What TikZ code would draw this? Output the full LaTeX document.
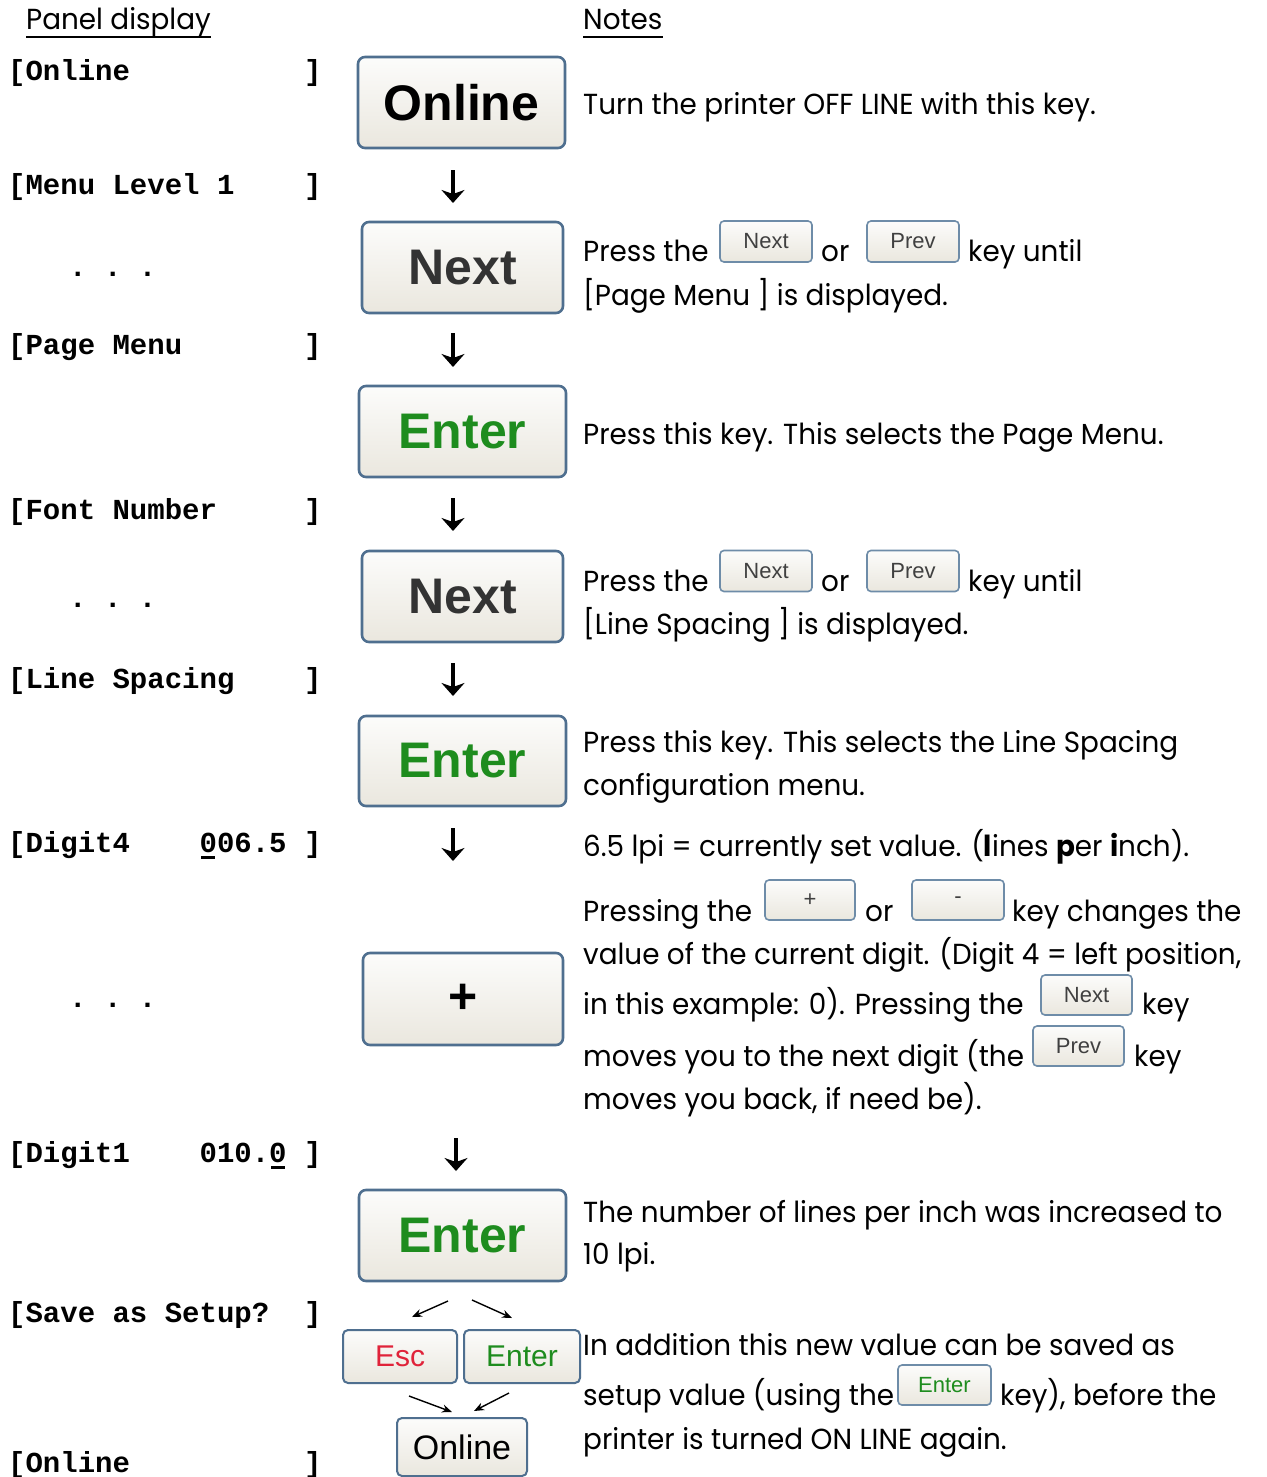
\documentclass[tikz,border=0pt]{standalone}
\usepackage{fontspec}
\setmainfont{Poppins}[FakeStretch=0.96]
\newfontfamily\panelfont{Liberation Mono}
\newfontfamily\keyfont{Liberation Sans}
\usetikzlibrary{arrows.meta}
\definecolor{keyborder}{HTML}{4F6F8F}
\definecolor{smallborder}{HTML}{6E8CA8}
\definecolor{keytop}{HTML}{FCFCFB}
\definecolor{keybot}{HTML}{EAE7DE}
\definecolor{entergreen}{HTML}{1E8C1E}
\definecolor{escred}{HTML}{E0233A}
\newcommand{\ulzero}{\makebox[0pt][l]{\hspace{1.8pt}\rule[-7pt]{14pt}{2.8pt}}0}
\tikzset{
  bigkey/.style={draw=keyborder, line width=2.6pt, rounded corners=7pt,
    top color=keytop, bottom color=keybot, inner sep=0pt,
    font=\keyfont\bfseries\fontsize{50}{56}\selectfont},
  midkey/.style={draw=keyborder, line width=2pt, rounded corners=5pt,
    top color=keytop, bottom color=keybot, inner sep=0pt,
    font=\keyfont\fontsize{30}{34}\selectfont},
  minikey/.style={draw=smallborder, line width=1.6pt, rounded corners=4pt,
    top color=keytop, bottom color=keybot, inner sep=0pt, text=black!75,
    font=\keyfont\fontsize{22}{26}\selectfont},
  panel/.style={anchor=base west, inner sep=0pt,
    font=\panelfont\bfseries\fontsize{29}{34}\selectfont},
  note/.style={anchor=base west, inner sep=0pt, font=\fontsize{29}{34}\selectfont},
  downarrow/.style={line width=4.4pt, -{Stealth[length=13pt,width=23pt,inset=4pt]}},
  diag/.style={line width=1.4pt, -{Stealth[length=10pt,width=8pt]}}
}
\begin{document}
\begin{tikzpicture}[x=1pt,y=-1pt]
\useasboundingbox[fill=white] (0,0) rectangle (1266,1477);

% headers
\node[note] (hpanel) at (26,30) {Panel display};
\node[note] (hnotes) at (583,30) {Notes};
\draw[line width=1.6pt] ([yshift=-7pt]hpanel.base west) -- ([yshift=-7pt]hpanel.base east);
\draw[line width=1.6pt] ([yshift=-7pt]hnotes.base west) -- ([yshift=-7pt]hnotes.base east);

% panel display column
\node[panel] (p1) at (8,81) {[Online\ \ \ \ \ \ \ \ \ \ ]};
\node[panel] (p2) at (8,194) {[Menu Level 1\ \ \ \ ]};
\node[panel] (d1) at (69,276) {.\ .\ .};
\node[panel] (p3) at (8,354) {[Page Menu\ \ \ \ \ \ \ ]};
\node[panel] (p4) at (8,519) {[Font Number\ \ \ \ \ ]};
\node[panel] (d2) at (69,607) {.\ .\ .};
\node[panel] (p5) at (8,688) {[Line Spacing\ \ \ \ ]};
\node[panel] (p6) at (8,852) {[Digit4\ \ \ \ \ulzero06.5 ]};
\node[panel] (d3) at (69,1007) {.\ .\ .};
\node[panel] (p7) at (8,1162) {[Digit1\ \ \ \ 010.\ulzero\ ]};
\node[panel] (p8) at (8,1322) {[Save as Setup?\ \ ]};
\node[panel] (p9) at (8,1472) {[Online\ \ \ \ \ \ \ \ \ \ ]};

% keys
\node[bigkey, minimum width=207pt, minimum height=91pt] (k1) at (461.5,102.5) {Online};
\node[bigkey, minimum width=201pt, minimum height=91pt, text=black!80] (k2) at (462.5,267.5) {Next};
\node[bigkey, minimum width=207pt, minimum height=91pt, text=entergreen] (k3) at (462.5,431.5) {Enter};
\node[bigkey, minimum width=201pt, minimum height=91pt, text=black!80] (k4) at (462.5,596.5) {Next};
\node[bigkey, minimum width=207pt, minimum height=90pt, text=entergreen] (k5) at (462.5,761) {Enter};
\node[bigkey, minimum width=200pt, minimum height=92pt] (k6) at (463,999) {+};
\node[bigkey, minimum width=207pt, minimum height=91pt, text=entergreen] (k7) at (462.5,1235.5) {Enter};
\node[midkey, minimum width=114pt, minimum height=53pt, text=escred] (k8) at (400,1356.5) {Esc};
\node[midkey, minimum width=116pt, minimum height=53pt, text=entergreen] (k9) at (522,1356.5) {Enter};
\node[midkey, minimum width=130pt, minimum height=58pt, font=\keyfont\fontsize{34}{38}\selectfont] (k10) at (462,1447) {Online};

% down arrows
\coordinate (a1s) at (453,170); \coordinate (a1e) at (453,203);
\coordinate (a2s) at (453,333); \coordinate (a2e) at (453,367);
\coordinate (a3s) at (453,498); \coordinate (a3e) at (453,531);
\coordinate (a4s) at (453,663); \coordinate (a4e) at (453,696);
\coordinate (a5s) at (453,828); \coordinate (a5e) at (453,861);
\coordinate (a6s) at (456,1138); \coordinate (a6e) at (456,1171);
\foreach \i in {1,...,6} {\draw[downarrow] (a\i s) -- (a\i e);}

% diagonal arrows
\coordinate (b1s) at (448,1301); \coordinate (b1e) at (412,1317);
\coordinate (b2s) at (472,1300); \coordinate (b2e) at (512,1318);
\coordinate (b3s) at (409,1396); \coordinate (b3e) at (452,1412);
\coordinate (b4s) at (509,1393); \coordinate (b4e) at (474,1411);
\foreach \i in {1,...,4} {\draw[diag] (b\i s) -- (b\i e);}

% notes
\node[note] (n1) at (583,115) {Turn the printer OFF LINE with this key.};

\node[note] (n2a) at (583,261) {Press the};
\node[minikey, minimum width=92pt, minimum height=41pt] (s1) at (766,241.5) {Next};
\node[note] (n2b) at (821,261) {or};
\node[minikey, minimum width=92pt, minimum height=41pt] (s2) at (913,241.5) {Prev};
\node[note] (n2c) at (968,261) {key until};
\node[note] (n3) at (583,305) {[Page Menu ] is displayed.};

\node[note] (n4) at (583,444) {Press this key. This selects the Page Menu.};

\node[note] (n5a) at (583,591) {Press the};
\node[minikey, minimum width=92pt, minimum height=41pt] (s3) at (766,571) {Next};
\node[note] (n5b) at (821,591) {or};
\node[minikey, minimum width=92pt, minimum height=41pt] (s4) at (913,571) {Prev};
\node[note] (n5c) at (968,591) {key until};
\node[note] (n6) at (583,634) {[Line Spacing ] is displayed.};

\node[note] (n7) at (583,752) {Press this key. This selects the Line Spacing};
\node[note] (n8) at (583,795) {configuration menu.};

\node[note] (n9) at (583,856) {6.5 lpi = currently set value. (\textbf{l}ines \textbf{p}er \textbf{i}nch).};

\node[note] (n10a) at (583,921) {Pressing the};
\node[minikey, minimum width=90pt, minimum height=40pt] (s5) at (810,900) {+};
\node[note] (n10b) at (865,921) {or};
\node[minikey, minimum width=92pt, minimum height=40pt] (s6) at (958,900) {-};
\node[note] (n10c) at (1012,921) {key changes the};
\node[note] (n11) at (583,964) {value of the current digit. (Digit 4 = left position,};
\node[note] (n12a) at (583,1014) {in this example: 0). Pressing the};
\node[minikey, minimum width=91pt, minimum height=40pt] (s7) at (1086.5,995) {Next};
\node[note] (n12b) at (1142,1014) {key};
\node[note] (n13a) at (583,1066) {moves you to the next digit (the};
\node[minikey, minimum width=91pt, minimum height=40pt] (s8) at (1078.5,1046) {Prev};
\node[note] (n13b) at (1134,1066) {key};
\node[note] (n14) at (583,1109) {moves you back, if need be).};

\node[note] (n15) at (583,1222) {The number of lines per inch was increased to};
\node[note] (n16) at (583,1264) {10 lpi.};

\node[note] (n17) at (583,1355) {In addition this new value can be saved as};
\node[note] (n18a) at (583,1405) {setup value (using the};
\node[minikey, minimum width=93pt, minimum height=40pt, text=entergreen] (s9) at (944.5,1385) {Enter};
\node[note] (n18b) at (1000,1405) {key), before the};
\node[note] (n19) at (583,1449) {printer is turned ON LINE again.};
\end{tikzpicture}
\end{document}
